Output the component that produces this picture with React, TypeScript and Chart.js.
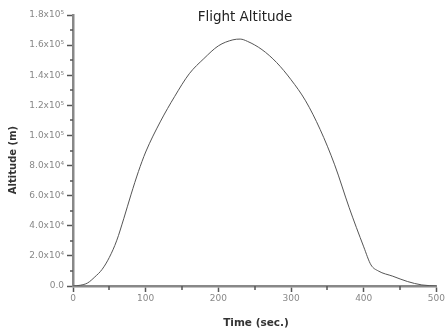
import React, { useEffect, useRef } from 'react';
import { Chart, registerables } from 'chart.js';

Chart.register(...registerables);

const times = [0, 10, 20, 30, 40, 50, 60, 70, 80, 90, 100, 120, 140, 160, 180, 200, 220, 230, 240, 260, 280, 300, 320, 340, 360, 380, 400, 410, 420, 440, 460, 480, 500];
const altitudes = [0, 500, 2000, 6000, 11000, 19000, 30000, 45000, 61000, 76000, 89000, 109000, 126000, 141000, 151000, 159500, 163500, 164000, 162500, 157000, 148500, 137000, 123000, 104000, 80500, 52000, 26000, 14000, 10000, 6500, 3000, 700, 0];

const xMajorTicks = [0, 100, 200, 300, 400, 500];
const xMinorTicks = [50, 150, 250, 350, 450];
const yMajorTicks = [0, 20000, 40000, 60000, 80000, 100000, 120000, 140000, 160000, 180000];
const yMinorTicks = [10000, 30000, 50000, 70000, 90000, 110000, 130000, 150000, 170000];

const chartTitle = 'Flight Altitude';
const xTitle = 'Time (sec.)';
const yTitle = 'Altitude (m)';

const FONT = '"DejaVu Sans", "Liberation Sans", Arial, sans-serif';

function formatY(v: number): string {
  if (v === 0) return '0.0';
  if (v >= 100000) return (v / 100000).toFixed(1) + 'x10\u2075';
  return (v / 10000).toFixed(1) + 'x10\u2074';
}

const textPlugin = {
  id: 'customTexts',
  afterDraw(chart: any) {
    const ctx = chart.ctx;
    const area = chart.chartArea;
    ctx.save();
    ctx.textAlign = 'center';
    ctx.textBaseline = 'middle';
    ctx.fillStyle = '#222';
    ctx.font = '13.5px ' + FONT;
    ctx.fillText(chartTitle, 245, area.top + 2);
    ctx.fillStyle = '#333';
    ctx.font = 'bold 10.5px ' + FONT;
    ctx.fillText(xTitle, 256, 323);
    ctx.translate(13, 160);
    ctx.rotate(-Math.PI / 2);
    ctx.font = 'bold 10px ' + FONT;
    ctx.fillText(yTitle, 0, 0);
    ctx.restore();
  },
};

const minorTickPlugin = {
  id: 'minorTicks',
  afterDraw(chart: any) {
    const ctx = chart.ctx;
    const area = chart.chartArea;
    const xs = chart.scales.x;
    const ys = chart.scales.y;
    ctx.save();
    ctx.strokeStyle = '#555';
    ctx.lineWidth = 1.5;
    ctx.beginPath();
    for (const v of xMinorTicks) {
      const px = Math.round(xs.getPixelForValue(v));
      ctx.moveTo(px, area.bottom);
      ctx.lineTo(px, area.bottom + 4);
    }
    for (const v of yMinorTicks) {
      const py = Math.round(ys.getPixelForValue(v));
      ctx.moveTo(area.left, py);
      ctx.lineTo(area.left - 3, py);
    }
    ctx.stroke();
    ctx.restore();
  },
};

export default function App() {
  const canvasRef = useRef<HTMLCanvasElement>(null);

  useEffect(() => {
    const canvas = canvasRef.current;
    if (!canvas) return;
    const chart = new Chart(canvas, {
      type: 'line',
      data: {
        datasets: [
          {
            data: times.map((t, i) => ({ x: t, y: altitudes[i] })),
            borderColor: '#555',
            borderWidth: 1,
            pointRadius: 0,
            fill: false,
            cubicInterpolationMode: 'monotone',
          },
        ],
      },
      options: {
        animation: false,
        responsive: false,
        maintainAspectRatio: false,
        layout: { padding: { top: 15, right: 8, left: 0, bottom: 0 } },
        plugins: {
          legend: { display: false },
          tooltip: { enabled: false },
          title: { display: false },
        },
        scales: {
          x: {
            type: 'linear',
            min: 0,
            max: 500,
            afterFit: (scale: any) => {
              scale.height = 47;
            },
            afterBuildTicks: (scale: any) => {
              scale.ticks = xMajorTicks.map((v) => ({ value: v }));
            },
            ticks: {
              color: '#888',
              font: { size: 9, family: FONT },
              padding: 1,
              maxRotation: 0,
              callback: (v: any) => String(v),
            },
            grid: {
              drawOnChartArea: false,
              drawTicks: true,
              tickLength: 6,
              tickColor: '#555',
              tickWidth: 1.5,
            },
            border: { display: true, color: '#888', width: 2.5 },
          },
          y: {
            type: 'linear',
            min: 0,
            max: 180000,
            afterFit: (scale: any) => {
              scale.width = 73;
            },
            afterBuildTicks: (scale: any) => {
              scale.ticks = yMajorTicks.map((v) => ({ value: v }));
            },
            ticks: {
              color: '#888',
              font: { size: 9, family: FONT },
              padding: 3,
              callback: (v: any) => formatY(Number(v)),
            },
            grid: {
              drawOnChartArea: false,
              drawTicks: true,
              tickLength: 6,
              tickColor: '#555',
              tickWidth: 1.5,
            },
            border: { display: true, color: '#888', width: 2.5 },
          },
        },
      } as any,
      plugins: [textPlugin, minorTickPlugin],
    });
    return () => chart.destroy();
  }, []);

  return (
    <div style={{ position: 'fixed', left: 0, top: 0, width: 446, height: 333, background: '#fff' }}>
      <canvas ref={canvasRef} width={446} height={333} style={{ width: 446, height: 333, display: 'block' }} />
    </div>
  );
}
